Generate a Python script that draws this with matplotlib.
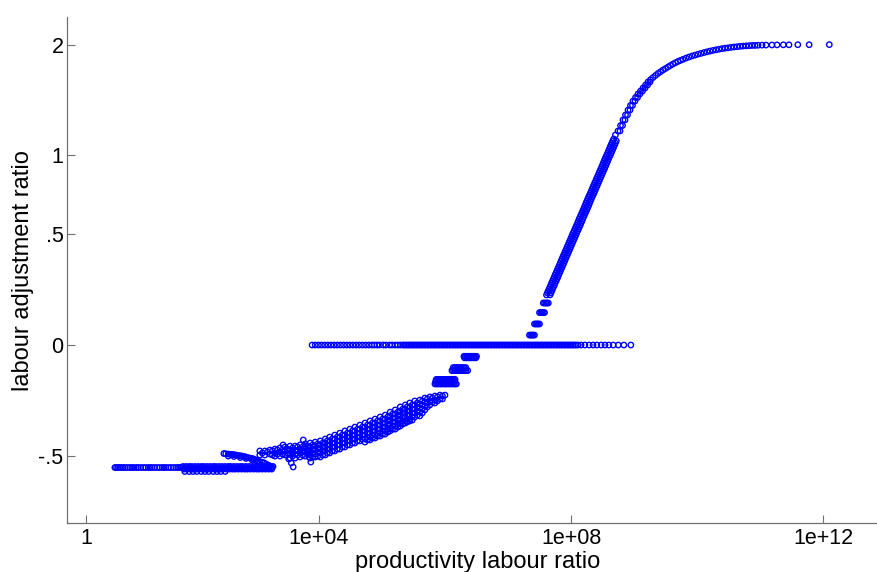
import numpy as np
import matplotlib
matplotlib.use("Agg")
import matplotlib.pyplot as plt

plt.rcParams["font.family"] = ["Liberation Sans", "DejaVu Sans"]

# x values are stored as log10(1 + productivity labour ratio)
# y values are the labour adjustment ratio

# long flat run at the bottom left (one y per row)
low_rows_y = [-0.565, -0.559, -0.574, -0.588, -0.566]
low_rows_lx = [
    [0.76, 0.785, 0.81, 0.835, 0.86, 0.89, 0.92, 0.96, 1.00, 1.03, 1.06,
     1.10, 1.13, 1.17, 1.21, 1.25, 1.29, 1.32, 1.35, 1.39, 1.43, 1.47, 1.51,
     1.54, 1.57, 1.61, 1.65, 1.69, 1.73, 1.76, 1.79, 1.82],
    [1.84, 1.89, 1.94, 1.98, 2.03, 2.08, 2.13, 2.17, 2.22, 2.27, 2.32, 2.36,
     2.41, 2.46, 2.51, 2.56, 2.60, 2.65, 2.70, 2.75, 2.79, 2.84, 2.89, 2.94,
     2.98, 3.03, 3.08, 3.13, 3.17, 3.22, 3.27],
    [1.86, 1.91, 1.96, 2.01, 2.06, 2.10, 2.15, 2.20, 2.25, 2.29, 2.34, 2.39,
     2.44, 2.48, 2.53, 2.58, 2.63, 2.67, 2.72, 2.77, 2.82, 2.86, 2.91, 2.96,
     3.01, 3.05, 3.10, 3.15, 3.20, 3.25],
    [1.87, 1.94, 2.00, 2.06, 2.13, 2.19, 2.25, 2.32, 2.38, 2.44, 2.51],
    [1.865, 1.915, 1.96, 2.005, 2.055, 2.105, 2.15, 2.195, 2.245, 2.295,
     2.34, 2.385, 2.435, 2.485, 2.535, 2.58, 2.625, 2.675, 2.725, 2.77,
     2.815, 2.865, 2.915, 2.96, 3.005, 3.055, 3.105, 3.15, 3.195, 3.245],
]

# small arc joining the flat run
arc_lx = [2.49, 2.52, 2.56, 2.59, 2.62, 2.65, 2.68, 2.71, 2.75, 2.78, 2.81,
          2.84, 2.87, 2.90, 2.94, 2.97, 3.00, 3.03, 3.06, 3.10, 3.13, 3.16,
          3.19, 3.22, 3.25,
          2.56, 2.65, 2.75, 2.84, 2.94, 3.03]
arc_y = [-0.487, -0.488, -0.490, -0.491, -0.492, -0.493, -0.495, -0.497,
         -0.499, -0.501, -0.503, -0.506, -0.509, -0.512, -0.514, -0.518,
         -0.523, -0.527, -0.531, -0.535, -0.539, -0.545, -0.551, -0.556,
         -0.562,
         -0.501, -0.503, -0.509, -0.514, -0.523, -0.534]

# rising cloud below zero, several y values per x column
band_lx = [3.06, 3.14, 3.22, 3.30, 3.38, 3.46, 3.54, 3.62, 3.70, 3.78,
           3.86, 3.94, 4.02, 4.10, 4.17, 4.25, 4.33, 4.41, 4.49, 4.57,
           4.65, 4.73, 4.81, 4.89, 4.97, 5.05, 5.13, 5.21, 5.29, 5.37,
           5.44, 5.52, 5.60, 5.68, 5.76, 5.84, 5.92, 6.00,
           3.10, 3.18, 3.26, 3.34, 3.42, 3.50, 3.58, 3.66, 3.74, 3.82,
           3.90, 3.98, 4.06, 4.13, 4.21, 4.29, 4.37, 4.45, 4.53, 4.61,
           4.69, 4.77, 4.85, 4.93, 5.01, 5.09, 5.17, 5.25, 5.33, 5.40,
           5.48, 5.56, 5.64, 5.72, 5.80, 5.88, 5.96]
band_y = [
    [-0.473, -0.495],
    [-0.473, -0.495],
    [-0.468, -0.490],
    [-0.463, -0.484, -0.501],
    [-0.457, -0.479, -0.501],
    [-0.452, -0.473, -0.495],
    [-0.447, -0.468, -0.490, -0.512],
    [-0.447, -0.468, -0.490, -0.512],
    [-0.441, -0.463, -0.484, -0.506],
    [-0.436, -0.457, -0.479, -0.501],
    [-0.431, -0.452, -0.473, -0.495, -0.512],
    [-0.426, -0.447, -0.468, -0.490, -0.506],
    [-0.420, -0.441, -0.463, -0.484, -0.506],
    [-0.410, -0.431, -0.452, -0.473, -0.495],
    [-0.400, -0.420, -0.441, -0.463, -0.484],
    [-0.390, -0.410, -0.431, -0.452, -0.473],
    [-0.380, -0.400, -0.420, -0.441, -0.463],
    [-0.369, -0.390, -0.410, -0.431, -0.452],
    [-0.360, -0.380, -0.400, -0.420, -0.441],
    [-0.350, -0.369, -0.390, -0.410, -0.431],
    [-0.340, -0.360, -0.380, -0.400, -0.420],
    [-0.330, -0.350, -0.369, -0.390, -0.410, -0.426],
    [-0.320, -0.340, -0.360, -0.380, -0.400, -0.415],
    [-0.311, -0.330, -0.350, -0.369, -0.390, -0.405],
    [-0.301, -0.320, -0.340, -0.360, -0.380, -0.395],
    [-0.292, -0.311, -0.330, -0.350, -0.369, -0.385],
    [-0.278, -0.296, -0.316, -0.335, -0.355, -0.369],
    [-0.268, -0.287, -0.306, -0.325, -0.345, -0.360],
    [-0.254, -0.273, -0.292, -0.311, -0.330, -0.345],
    [-0.245, -0.264, -0.282, -0.301, -0.320, -0.330],
    [-0.236, -0.254, -0.273, -0.292, -0.311, -0.320],
    [-0.227, -0.245, -0.264, -0.282, -0.301],
    [-0.223, -0.241, -0.259, -0.278, -0.296],
    [-0.214, -0.232, -0.250, -0.268],
    [-0.209, -0.227, -0.245],
    [-0.205, -0.223, -0.236],
    [-0.201, -0.218],
    [-0.201],
    # in-between columns
    [-0.484],
    [-0.479],
    [-0.473, -0.495],
    [-0.468, -0.490],
    [-0.468, -0.490],
    [-0.463, -0.484],
    [-0.457, -0.479, -0.501],
    [-0.452, -0.473, -0.495],
    [-0.452, -0.473, -0.495],
    [-0.447, -0.468, -0.490],
    [-0.441, -0.463, -0.484, -0.506],
    [-0.436, -0.457, -0.479, -0.501],
    [-0.431, -0.452, -0.473, -0.495],
    [-0.420, -0.441, -0.463, -0.484],
    [-0.410, -0.431, -0.452, -0.473],
    [-0.400, -0.420, -0.441, -0.463],
    [-0.390, -0.410, -0.431, -0.452],
    [-0.380, -0.400, -0.420, -0.441],
    [-0.369, -0.390, -0.410, -0.431],
    [-0.360, -0.380, -0.400, -0.420],
    [-0.350, -0.369, -0.390, -0.410],
    [-0.340, -0.360, -0.380, -0.400, -0.415],
    [-0.330, -0.350, -0.369, -0.390, -0.405],
    [-0.320, -0.340, -0.360, -0.380, -0.395],
    [-0.311, -0.330, -0.350, -0.369, -0.385],
    [-0.301, -0.320, -0.340, -0.360, -0.375],
    [-0.287, -0.306, -0.325, -0.345, -0.360],
    [-0.278, -0.296, -0.316, -0.335, -0.350],
    [-0.264, -0.282, -0.301, -0.320, -0.335],
    [-0.254, -0.273, -0.292, -0.311, -0.325],
    [-0.245, -0.264, -0.282, -0.301, -0.316],
    [-0.236, -0.254, -0.273, -0.292],
    [-0.227, -0.245, -0.264, -0.282],
    [-0.218, -0.236, -0.254],
    [-0.214, -0.232],
    [-0.209, -0.227],
    [-0.205, -0.218],
]

# the two slanted streaks at the left end of the cloud
streak_lx = [3.43, 3.46, 3.49, 3.52, 3.56, 3.59, 3.75, 3.78, 3.81, 3.84, 3.87]
streak_y = [-0.441, -0.468, -0.495, -0.517, -0.539, -0.562,
            -0.415, -0.447, -0.479, -0.506, -0.534]

# short steps just under zero (one y per row)
step_rows_y = [-0.134, -0.153, -0.143, -0.086, -0.098, -0.042, -0.048]
step_rows_lx = [
    [5.86, 5.885, 5.91, 5.935, 5.96, 5.985, 6.01, 6.035, 6.06, 6.085, 6.11,
     6.135, 6.16],
    [5.84, 5.865, 5.89, 5.915, 5.94, 5.965, 5.99, 6.015, 6.04, 6.065, 6.09,
     6.115, 6.14, 6.165, 6.18],
    [5.85, 5.90, 5.95, 6.00, 6.05, 6.10, 6.15],
    [6.13, 6.155, 6.18, 6.205, 6.23, 6.255, 6.28, 6.305, 6.33],
    [6.11, 6.135, 6.16, 6.185, 6.21, 6.235, 6.26, 6.285, 6.31, 6.335, 6.36],
    [6.30, 6.325, 6.35, 6.375, 6.40, 6.425, 6.45, 6.475, 6.50],
    [6.31, 6.34, 6.37, 6.40, 6.43, 6.46, 6.49],
]

# the line of zeros
zero_lx = [3.89, 3.94, 3.99, 4.04, 4.09, 4.14, 4.19, 4.24, 4.29, 4.34, 4.39,
           4.44, 4.49, 4.54, 4.59, 4.64, 4.69, 4.74, 4.79, 4.84, 4.88, 4.92,
           4.96, 5.02, 5.06, 5.12, 5.16, 5.21, 5.25, 5.29,
           5.33, 5.38, 5.43, 5.48, 5.53, 5.58, 5.63, 5.68, 5.73, 5.78, 5.83,
           5.88, 5.93, 5.98, 6.03, 6.08, 6.13, 6.18, 6.23, 6.28, 6.33, 6.38,
           6.43, 6.48, 6.53, 6.58, 6.63, 6.68, 6.73, 6.78, 6.83, 6.88, 6.93,
           6.98, 7.03, 7.08, 7.13, 7.18, 7.23, 7.28, 7.33, 7.38, 7.43, 7.48,
           7.53, 7.58, 7.63, 7.68, 7.73, 7.78, 7.83, 7.88, 7.93, 7.98, 8.03,
           8.08,
           5.355, 5.405, 5.455, 5.505, 5.555, 5.605, 5.655, 5.705, 5.755,
           5.805, 5.855, 5.905, 5.955, 6.005, 6.055, 6.105, 6.155, 6.205,
           6.255, 6.305, 6.355, 6.405, 6.455, 6.505, 6.555, 6.605, 6.655,
           6.705, 6.755, 6.805, 6.855, 6.905, 6.955, 7.005, 7.055, 7.105,
           7.155, 7.205, 7.255, 7.305, 7.355, 7.405, 7.455, 7.505, 7.555,
           7.605, 7.655, 7.705, 7.755, 7.805, 7.855, 7.905, 7.955, 8.005,
           8.055, 8.11,
           8.16, 8.22, 8.29, 8.35, 8.41, 8.48, 8.54, 8.60, 8.67, 8.75, 8.84,
           8.95]

# first few clumps above zero
base_lx = [7.34, 7.36, 7.38, 7.40, 7.42,
           7.42, 7.44, 7.46, 7.48, 7.50,
           7.50, 7.52, 7.54, 7.56, 7.58,
           7.56, 7.58, 7.60, 7.62, 7.64]
base_y = [0.037, 0.037, 0.037, 0.037, 0.037,
          0.080, 0.080, 0.080, 0.080, 0.080,
          0.126, 0.126, 0.126, 0.126, 0.126,
          0.166, 0.166, 0.166, 0.166, 0.166]

# steep rise, four interleaved rows
rise_lx = [7.611, 7.638, 7.666, 7.693, 7.721, 7.748, 7.776, 7.803, 7.830,
           7.857, 7.884, 7.911, 7.939, 7.966, 7.993, 8.020, 8.049, 8.076,
           8.103, 8.130, 8.159, 8.186, 8.213, 8.239, 8.266, 8.295, 8.322,
           8.349, 8.376, 8.403, 8.432, 8.459, 8.486, 8.513, 8.539, 8.568,
           8.595, 8.622, 8.649, 8.678, 8.705,
           7.681, 7.708, 7.736, 7.763, 7.791, 7.818, 7.846, 7.873, 7.900,
           7.927, 7.954, 7.981, 8.009, 8.036, 8.063, 8.090, 8.119, 8.146,
           8.173, 8.200, 8.229, 8.256, 8.283, 8.309, 8.336, 8.365, 8.392,
           8.419, 8.446, 8.473, 8.502, 8.529, 8.556, 8.583, 8.609, 8.638,
           8.665, 8.692, 8.719,
           7.625, 7.652, 7.680, 7.707, 7.735, 7.762, 7.790, 7.817, 7.844,
           7.871, 7.898, 7.925, 7.953, 7.980, 8.007, 8.034, 8.063, 8.090,
           8.117, 8.144, 8.173, 8.200, 8.227, 8.253, 8.280, 8.309, 8.336,
           8.363, 8.390, 8.417, 8.446, 8.473, 8.500, 8.527, 8.553, 8.582,
           8.609, 8.636, 8.663,
           7.667, 7.694, 7.722, 7.749, 7.777, 7.804, 7.832, 7.859, 7.886,
           7.913, 7.940, 7.967, 7.995, 8.022, 8.049, 8.076, 8.105, 8.132,
           8.159, 8.186, 8.215, 8.242, 8.269, 8.295, 8.322, 8.351, 8.378,
           8.405, 8.432, 8.459, 8.488, 8.515, 8.542, 8.569, 8.595, 8.624,
           8.651, 8.678, 8.705]
rise_y = [0.201, 0.218, 0.236, 0.255, 0.273, 0.292, 0.311, 0.330, 0.350,
          0.370, 0.390, 0.410, 0.431, 0.452, 0.473, 0.495, 0.517, 0.539,
          0.562, 0.585, 0.609, 0.632, 0.656, 0.681, 0.706, 0.731, 0.756,
          0.782, 0.808, 0.835, 0.862, 0.889, 0.917, 0.946, 0.974, 1.003,
          1.033, 1.063, 1.093, 1.124, 1.155,
          0.210, 0.227, 0.245, 0.264, 0.282, 0.301, 0.321, 0.340, 0.360,
          0.380, 0.400, 0.420, 0.441, 0.463, 0.484, 0.506, 0.528, 0.550,
          0.573, 0.597, 0.621, 0.644, 0.668, 0.693, 0.719, 0.744, 0.769,
          0.795, 0.821, 0.848, 0.876, 0.903, 0.931, 0.960, 0.989, 1.018,
          1.048, 1.078, 1.109,
          0.210, 0.227, 0.245, 0.264, 0.282, 0.301, 0.321, 0.340, 0.360,
          0.380, 0.400, 0.420, 0.441, 0.463, 0.484, 0.506, 0.528, 0.550,
          0.573, 0.597, 0.621, 0.644, 0.668, 0.693, 0.719, 0.744, 0.769,
          0.795, 0.821, 0.848, 0.876, 0.903, 0.931, 0.960, 0.989, 1.018,
          1.048, 1.078, 1.109,
          0.201, 0.218, 0.236, 0.255, 0.273, 0.292, 0.311, 0.330, 0.350,
          0.370, 0.390, 0.410, 0.431, 0.452, 0.473, 0.495, 0.517, 0.539,
          0.562, 0.585, 0.609, 0.632, 0.656, 0.681, 0.706, 0.731, 0.756,
          0.782, 0.808, 0.835, 0.862, 0.889, 0.917, 0.946, 0.974, 1.003,
          1.033, 1.063, 1.093]

# bend towards 2 and the flat tail
top_lx = [8.746, 8.786, 8.825, 8.865, 8.905, 8.944, 8.984, 9.024, 9.063,
          9.103, 9.143, 9.183, 9.222, 9.262, 9.302, 9.341, 9.381, 9.421,
          9.460, 9.500, 9.540, 9.579, 9.619, 9.659, 9.698, 9.738, 9.778,
          9.825, 9.873, 9.921, 9.968, 10.016, 10.063, 10.111, 10.159, 10.206,
          10.254, 10.302, 10.349, 10.397, 10.444, 10.492, 10.540, 10.587,
          10.635, 10.683, 10.730, 10.778, 10.825, 10.873, 10.921, 10.968,
          11.032, 11.095, 11.19, 11.27, 11.37, 11.46, 11.60, 11.78, 12.10,
          8.778, 8.818, 8.857, 8.897, 8.937, 8.976, 9.016, 9.056, 9.095,
          9.135, 9.175, 9.215, 9.254]
top_y = [1.187, 1.231, 1.277, 1.319, 1.361, 1.401, 1.440, 1.472, 1.504,
         1.531, 1.559, 1.587, 1.616, 1.638, 1.659, 1.679, 1.699, 1.716,
         1.733, 1.748, 1.764, 1.779, 1.794, 1.807, 1.820, 1.831, 1.842,
         1.855, 1.866, 1.877, 1.886, 1.896, 1.904, 1.913, 1.921, 1.929,
         1.936, 1.943, 1.949, 1.955, 1.960, 1.964, 1.969, 1.973,
         1.976, 1.980, 1.983, 1.985, 1.987, 1.990, 1.990, 1.992,
         1.993, 1.994, 1.995, 1.996, 1.997, 1.997, 1.998, 1.998, 1.999,
         1.187, 1.231, 1.277, 1.319, 1.361, 1.401, 1.440, 1.472, 1.504,
         1.531, 1.559, 1.587, 1.616]

# gather everything into one cloud
lx_all = []
y_all = []
for yv, row in zip(low_rows_y + step_rows_y, low_rows_lx + step_rows_lx):
    lx_all += row
    y_all += [yv] * len(row)
for xv, col in zip(band_lx, band_y):
    lx_all += [xv] * len(col)
    y_all += col
for xs, ys in [(arc_lx, arc_y), (streak_lx, streak_y),
               (zero_lx, [0.0] * len(zero_lx)), (base_lx, base_y),
               (rise_lx, rise_y), (top_lx, top_y)]:
    lx_all += xs
    y_all += ys

ratio = 10 ** np.array(lx_all) - 1
adj = np.array(y_all)


# axis transforms: log10(1+x) across, signed log(1+|y|) up
def fx(x):
    x = np.asarray(x, dtype=float)
    return np.log10(np.clip(1 + x, 1e-9, None))


def fx_inv(t):
    return 10 ** np.asarray(t, dtype=float) - 1


def fy(y):
    y = np.asarray(y, dtype=float)
    return np.sign(y) * np.log1p(np.abs(y))


def fy_inv(t):
    t = np.asarray(t, dtype=float)
    return np.sign(t) * np.expm1(np.abs(t))


fig = plt.figure(figsize=(8.78, 5.72), dpi=100)
ax = fig.add_axes([67 / 878, 48.7 / 572, 811 / 878, 506 / 572])
ax.set_xscale("function", functions=(fx, fx_inv))
ax.set_yscale("function", functions=(fy, fy_inv))

ax.scatter(ratio, adj, s=15, facecolors="none", edgecolors="#0000ff",
           linewidths=1.0)

ax.set_xlim(0, 10 ** 12.873 - 1)
ax.set_ylim(-0.919, 2.314)

ax.set_xticks([1, 1e4, 1e8, 1e12])
ax.set_xticklabels(["1", "1e+04", "1e+08", "1e+12"])
ax.set_yticks([-0.5, 0, 0.5, 1, 2])
ax.set_yticklabels(["-.5", "0", ".5", "1", "2"])
ax.minorticks_off()

for s in ["top", "right"]:
    ax.spines[s].set_visible(False)
for s in ["left", "bottom"]:
    ax.spines[s].set_color("#707070")
    ax.spines[s].set_linewidth(0.9)

ax.tick_params(direction="in", length=6, width=0.8, color="#707070",
               labelsize=15.5)
ax.tick_params(axis="x", pad=3.5)
ax.tick_params(axis="y", pad=2.5)

ax.set_xlabel("productivity labour ratio", fontsize=17)
ax.set_ylabel("labour adjustment ratio", fontsize=17)
ax.xaxis.set_label_coords(0.506, -0.055)
ax.yaxis.set_label_coords(-0.041, 0.5)

fig.savefig("out.png", dpi=100)
